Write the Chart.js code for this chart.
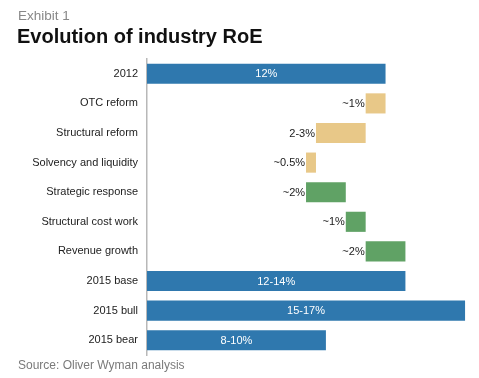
<!DOCTYPE html>
<html>
<head>
<meta charset="utf-8">
<script src="https://cdn.jsdelivr.net/npm/chart.js@4/dist/chart.umd.min.js"></script>
<style>
  html, body { margin: 0; padding: 0; background: #fff; }
  #wrap { position: relative; width: 479px; height: 378px; overflow: hidden; font-family: "Liberation Sans", Arial, sans-serif; }
  #chart { position: absolute; left: 0; top: 0; }
  .t { position: absolute; white-space: nowrap; line-height: 1; }
  #exhibit { left: 18px; top: 9px; font-size: 13.5px; color: #888; }
  #title { left: 17px; top: 26px; font-size: 20px; font-weight: bold; color: #111; }
  #source { left: 18px; top: 359px; font-size: 12px; color: #7a7a7a; }
</style>
</head>
<body>
<div id="wrap">
  <canvas id="chart" width="479" height="378"></canvas>
  <div class="t" id="exhibit">Exhibit 1</div>
  <div class="t" id="title">Evolution of industry RoE</div>
  <div class="t" id="source">Source: Oliver Wyman analysis</div>
</div>
<script>
// ---- Data ----
const categories = ['2012', 'OTC reform', 'Structural reform', 'Solvency and liquidity',
  'Strategic response', 'Structural cost work', 'Revenue growth', '2015 base', '2015 bull', '2015 bear'];
// totals are absolute RoE (%), steps are changes (%)
const values = [12, -1, -2.5, -0.5, 2, 1, 2, 13, 16, 9];
const kinds = ['total', 'neg', 'neg', 'neg', 'pos', 'pos', 'pos', 'total', 'total', 'total'];
const valueLabels = ['12%', '~1%', '2-3%', '~0.5%', '~2%', '~1%', '~2%', '12-14%', '15-17%', '8-10%'];

const kindColors = { total: '#2f78ae', neg: '#e8c888', pos: '#60a265' };

// Build floating ranges
let running = 0;
const ranges = values.map((v, i) => {
  if (kinds[i] === 'total') { running = (i <= 7) ? v : running; return [0, v]; }
  const r = [running, running + v];
  running += v;
  return r;
});

const labelPlugin = {
  id: 'barLabels',
  afterDatasetsDraw(chart) {
    const ctx = chart.ctx;
    const meta = chart.getDatasetMeta(0);
    ctx.save();
    ctx.font = '11px "Liberation Sans", Arial, sans-serif';
    ctx.textBaseline = 'middle';
    meta.data.forEach((bar, i) => {
      const left = Math.min(bar.x, bar.base);
      const right = Math.max(bar.x, bar.base);
      if (kinds[i] === 'total') {
        ctx.fillStyle = '#ffffff';
        ctx.textAlign = 'center';
        ctx.fillText(valueLabels[i], (left + right) / 2, bar.y + 0.5);
      } else {
        ctx.fillStyle = '#1a1a1a';
        ctx.textAlign = 'right';
        ctx.fillText(valueLabels[i], left - 1, bar.y + 0.5);
      }
    });
    ctx.restore();
  }
};

new Chart(document.getElementById('chart'), {
  type: 'bar',
  data: {
    labels: categories,
    datasets: [{
      data: ranges,
      backgroundColor: kinds.map(k => kindColors[k]),
      borderWidth: 0,
      categoryPercentage: 1,
      barPercentage: 0.68
    }]
  },
  options: {
    indexAxis: 'y',
    responsive: false,
    animation: false,
    events: [],
    layout: { padding: { top: 59, bottom: 23, right: 4, left: 0 } },
    plugins: { legend: { display: false }, tooltip: { enabled: false }, title: { display: false } },
    scales: {
      x: { display: false, min: 0, max: 16.5 },
      y: {
        grid: { display: false, drawTicks: false },
        border: { display: true, color: '#b8b8b8', width: 1.5 },
        ticks: { color: '#222', padding: 9, font: { family: '"Liberation Sans", Arial, sans-serif', size: 11 } },
        afterFit(scale) { scale.width = 147; }
      }
    }
  },
  plugins: [labelPlugin]
});
</script>
</body>
</html>
